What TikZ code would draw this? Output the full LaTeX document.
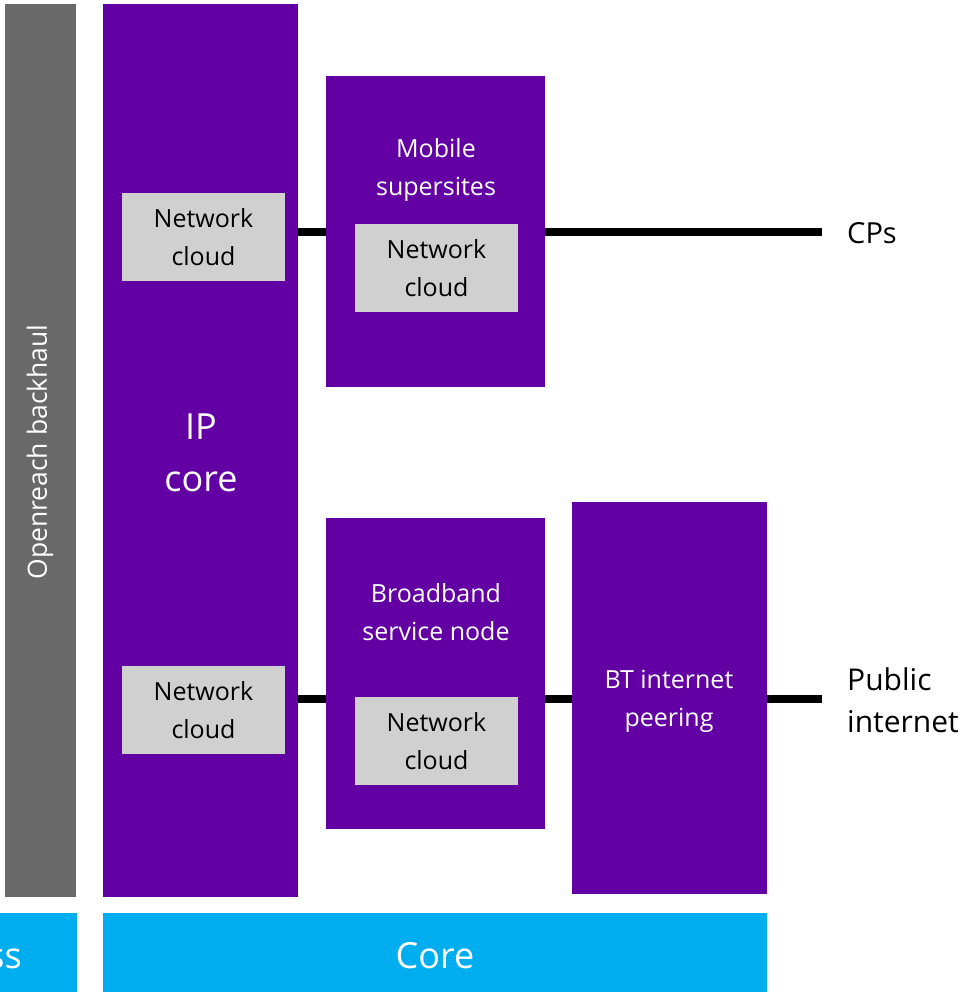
\documentclass[tikz,border=0pt]{standalone}
\usepackage{fontspec}
\setmainfont{Open Sans}
\definecolor{btpurple}{HTML}{6200A4}
\definecolor{btgray}{HTML}{696969}
\definecolor{cloudgray}{HTML}{D0D0D0}
\definecolor{btcyan}{HTML}{00AEEF}
\tikzset{
  box/.style={anchor=north west, inner sep=0pt, outer sep=0pt},
  purplebox/.style={box, fill=btpurple, text=white, align=center},
  cloudbox/.style={box, fill=cloudgray, text=black, align=center, minimum width=163pt, minimum height=88pt,
    font=\fontsize{25}{38}\selectfont},
  cyanbox/.style={box, fill=btcyan, text=white, minimum height=79pt, font=\fontsize{35}{42}\selectfont},
  link/.style={line width=8pt, black},
  extlabel/.style={anchor=west, inner sep=0pt, align=left, text=black}
}
\begin{document}
\begin{tikzpicture}[x=1pt,y=-1pt]
\useasboundingbox (0,0) rectangle (967,992);
\clip (0,0) rectangle (967,992);
% gray backhaul bar
\node[box, fill=btgray, minimum width=71pt, minimum height=893pt] (backhaul) at (5,4) {};
\node[rotate=90, text=white, font=\fontsize{26.5}{30}\selectfont] (backhaultext) at (40,452) {Openreach backhaul};
% IP core
\node[purplebox, minimum width=195pt, minimum height=893pt] (ipcore) at (103,4) {};
\node[text=white, align=center, font=\fontsize{36}{52}\selectfont] (iptext) at (201,453) {IP\\core};
\node[cloudbox] (nc1) at (122,193) {Network\\cloud};
\node[cloudbox] (nc2) at (122,666) {Network\\cloud};
% Mobile supersites
\node[purplebox, minimum width=219pt, minimum height=311pt] (mobile) at (326,76) {};
\node[text=white, align=center, font=\fontsize{25}{38}\selectfont] (mobiletext) at (436,170) {Mobile\\supersites};
\node[cloudbox] (nc3) at (355,224) {Network\\cloud};
% Broadband service node
\node[purplebox, minimum width=219pt, minimum height=311pt] (bsn) at (326,518) {};
\node[text=white, align=center, font=\fontsize{25}{38}\selectfont] (bsntext) at (436,612) {Broadband\\service node};
\node[cloudbox] (nc4) at (355,697) {Network\\cloud};
% BT internet peering
\node[purplebox, minimum width=195pt, minimum height=392pt] (peer) at (572,502) {};
\node[text=white, align=center, font=\fontsize{25}{38}\selectfont] (peertext) at (669,701) {BT internet\\peering};
% external labels
\coordinate (cpsend) at (822,232);
\coordinate (pubend) at (822,699);
\node[extlabel, font=\fontsize{29}{34}\selectfont] (cps) at (847,233) {CPs};
\node[extlabel, font=\fontsize{30}{42}\selectfont] (pub) at (847,700) {Public\\internet};
% links
\draw[link] (ipcore.east |- cpsend) -- (mobile.west |- cpsend);
\draw[link] (mobile.east |- cpsend) -- (cpsend);
\draw[link] (ipcore.east |- pubend) -- (bsn.west |- pubend);
\draw[link] (bsn.east |- pubend) -- (peer.west |- pubend);
\draw[link] (peer.east |- pubend) -- (pubend);
% bottom bars (Access is cut off at the left edge, as in the reference)
\node[cyanbox, minimum width=177pt] (access) at (-100,913) {};
\node[text=white, font=\fontsize{36}{42}\selectfont] (accesstext) at (-34,956) {Access};
\node[cyanbox, minimum width=664pt] (core) at (103,913) {};
\node[text=white, font=\fontsize{36}{42}\selectfont] (coretext) at (435,956) {Core};
\end{tikzpicture}
\end{document}
